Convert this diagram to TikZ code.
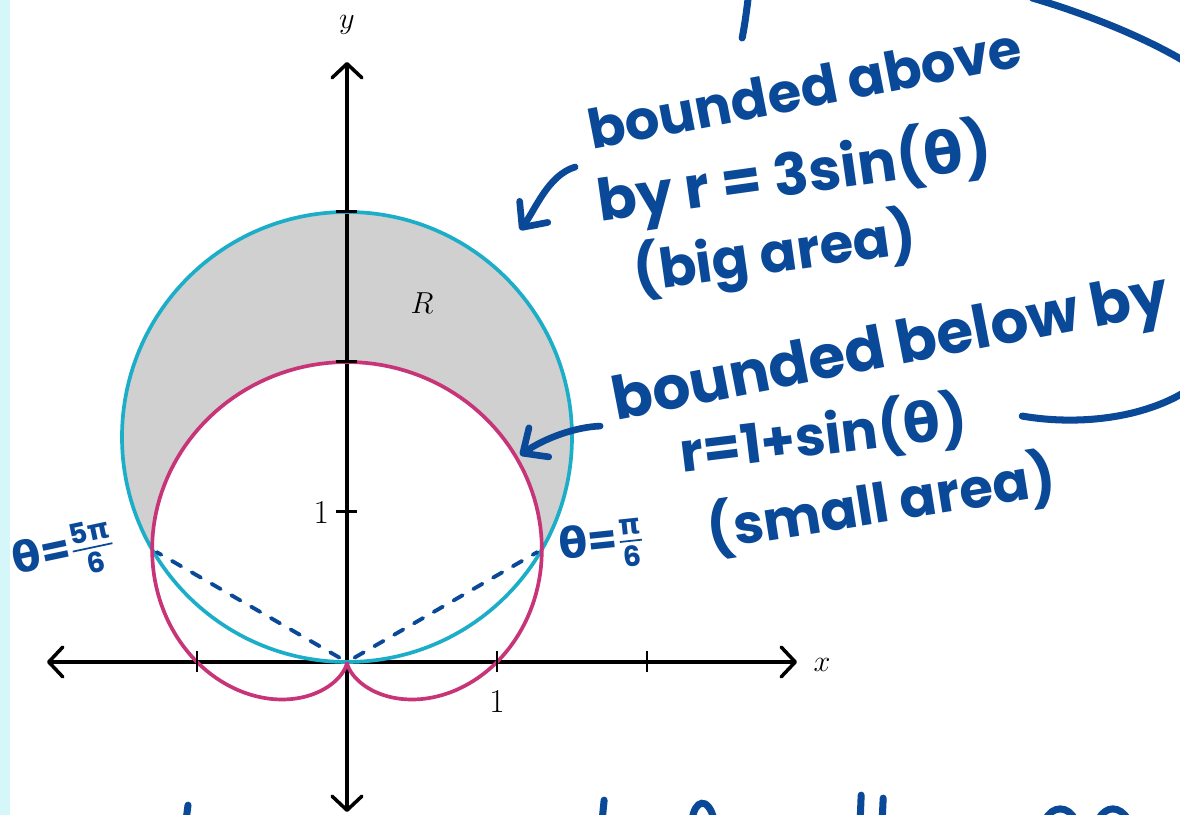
\documentclass[tikz,border=0pt]{standalone}
\usepackage{amsmath}
\usepackage{fontspec}
\usepackage{xcolor}
\usetikzlibrary{arrows.meta, positioning, calc}
\newfontfamily\handfont{Poppins}
\newfontfamily\greekhand{DejaVu Sans}
\newcommand{\gk}[1]{{\greekhand\bfseries #1}}
\newcommand{\handfrac}[2]{\ensuremath{\frac{\hbox{\fontsize{16}{16}\selectfont #1}}{\hbox{\fontsize{16}{16}\selectfont #2}}}}
\definecolor{handblue}{RGB}{10,72,152}
\definecolor{circcyan}{RGB}{28,174,200}
\definecolor{cardpink}{RGB}{200,52,120}
\definecolor{regiongray}{RGB}{208,208,208}
\definecolor{stripcyan}{RGB}{214,247,250}
\tikzset{
  %% Axis with open barbs
  axisline/.style={line width=2pt, draw=black, line cap=round,
    {Straight Barb[length=8pt,width=17pt,round]}-{Straight Barb[length=8pt,width=17pt,round]}},
  axtick/.style={line width=1.7pt, draw=black},
  %% Polar curves
  polarcurve/.style={line width=2.1pt, draw=#1},
  polarcurve/.default=circcyan,
  %% Plot labels
  lbl/.style={font=\fontsize{19}{22}\selectfont, inner sep=1pt},
  %% Handwritten notes
  handtext/.style={font=\handfont\bfseries\fontsize{31}{34}\selectfont,
    text=handblue, inner sep=0pt, anchor=base west},
  handarrow/.style={draw=handblue, line width=3.8pt, line cap=round, line join=round,
    -{Straight Barb[length=11pt,width=20pt,round]}},
  handstroke/.style={draw=handblue, line width=4pt, line cap=round},
  handdash/.style={draw=handblue, line width=2.2pt, line cap=round,
    dash pattern=on 6pt off 7pt},
}
\begin{document}
\begin{tikzpicture}[x=3cm, y=3cm]
  \useasboundingbox (-2.3133,-1.02) rectangle (5.5533,4.4133);
  \begin{scope}
  \clip (-2.3133,-1.02) rectangle (5.5533,4.4133);
  \fill[white] (-2.3133,-1.02) rectangle (5.5533,4.4133);
  \fill[stripcyan] (-2.3133,-1.02) rectangle (-2.2466,4.4133);

  %% Region R between the curves
  \fill[regiongray]
    plot[domain=30:150, samples=80, variable=\t] ({3*sin(\t)*cos(\t)},{3*sin(\t)*sin(\t)})
    -- plot[domain=150:30, samples=80, variable=\t] ({(1+sin(\t))*cos(\t)},{(1+sin(\t))*sin(\t)})
    -- cycle;

  %% Axes
  \coordinate (O) at (0,0);
  \draw[axisline] (-2,0) -- (3,0);
  \draw[axisline] (0,-1) -- (0,4);

  %% Curves
  \draw[polarcurve=circcyan] (0,1.5) circle (1.5);
  \draw[polarcurve=cardpink] plot[domain=-90:270, samples=240, variable=\t]
    ({(1+sin(\t))*cos(\t)},{(1+sin(\t))*sin(\t)});

  %% Ticks
  \foreach \tx in {-1,1,2}
    \draw[axtick] (\tx,-0.07) -- (\tx,0.07);
  \foreach \ty in {1,2,3}
    \draw[axtick] (-0.07,\ty) -- (0.07,\ty);

  %% Labels
  \node[lbl] (xlbl) at (3.167,-0.02) {$x$};
  \node[lbl] (ylbl) at (0,4.247) {$y$};
  \node[lbl, left=9pt] (yone) at (0,1) {1};
  \node[lbl, below=15pt] (xone) at (1,0) {1};
  \node[lbl] (rlbl) at (0.5,2.393) {$R$};

  %% Intersection points
  \coordinate (Pright) at ({1.5*cos(30)},0.75);
  \coordinate (Pleft) at ({-1.5*cos(30)},0.75);
  \draw[handdash, shorten <=5pt, shorten >=3pt] (O) -- (Pright);
  \draw[handdash, shorten <=5pt, shorten >=3pt] (O) -- (Pleft);

  %% Handwritten notes, pixel grid
  \begin{scope}[shift={(-2.3133,4.4133)}, x=0.02cm, y=-0.02cm]
    \node[handtext, rotate=11] (abovea) at (592,150) {bounded above};
    \node[handtext, rotate=8, font=\handfont\bfseries\fontsize{33}{35}\selectfont]
      (aboveb) at (600,222) {by r = 3sin(\gk{θ})};
    \node[handtext, rotate=8] (abovec) at (636,292) {(big area)};
    \node[handtext, rotate=11, font=\handfont\bfseries\fontsize{34}{36}\selectfont]
      (belowa) at (616,420) {bounded below by};
    \node[handtext, rotate=7] (belowb) at (682,472) {r=1+sin(\gk{θ})};
    \node[handtext, rotate=9] (belowc) at (710,550) {(small area)};
    \node[handtext, anchor=center, rotate=6, font=\handfont\bfseries\fontsize{24}{26}\selectfont]
      (thetar) at (602,546) {\gk{θ}=\handfrac{\gk{π}}{6}};
    \node[handtext, anchor=center, rotate=12, font=\handfont\bfseries\fontsize{24}{26}\selectfont]
      (thetal) at (64,553) {\gk{θ}=\handfrac{5\gk{π}}{6}};

    \coordinate (abovetail) at (575,167);
    \coordinate (circhit) at (520,230);
    \coordinate (belowtail) at (600,426);
    \coordinate (cardhit) at (520,455);
    \draw[handarrow] (abovetail) .. controls (548,175) and (535,210) .. (circhit);
    \draw[handarrow] (belowtail) .. controls (575,427) and (545,438) .. (cardhit);

    %% Cut-off strokes at the edges
    \draw[handstroke] (1032,-2) .. controls (1100,18) and (1160,45) .. (1195,68);
    \draw[handstroke] (1022,416) .. controls (1080,426) and (1150,418) .. (1195,385);
    \draw[handstroke] (748,-2) .. controls (746,15) and (744,28) .. (742,38);
    \draw[handstroke] (186,820) -- (188,805);
    \draw[handstroke] (602,820) -- (604,800);
    \draw[handstroke] (692,820) .. controls (694,800) and (708,795) .. (714,820);
    \draw[handstroke] (860,820) -- (861,795);
    \draw[handstroke] (882,820) -- (883,798);
    \draw[handstroke] (1045,820) .. controls (1052,805) and (1068,805) .. (1075,820);
    \draw[handstroke] (1098,820) .. controls (1105,805) and (1120,805) .. (1128,820);
  \end{scope}
  \end{scope}
\end{tikzpicture}
\end{document}
